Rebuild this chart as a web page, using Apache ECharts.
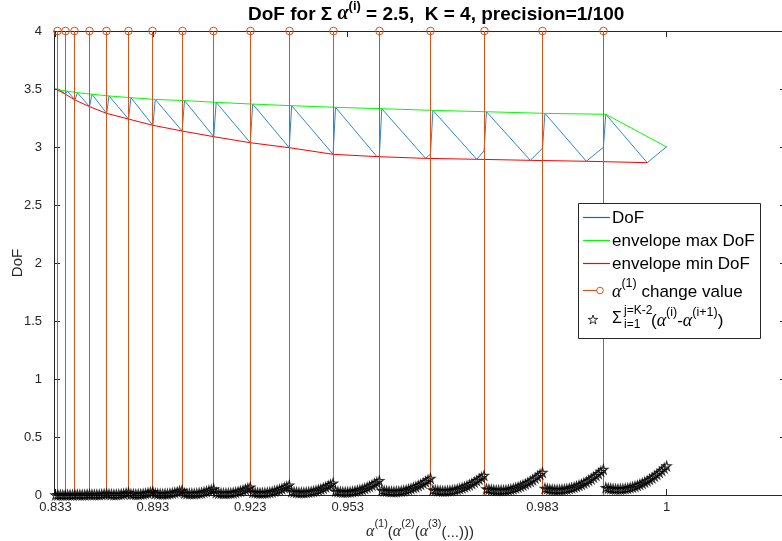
<!DOCTYPE html>
<html><head><meta charset="utf-8">
<script src="https://cdn.jsdelivr.net/npm/echarts@6/dist/echarts.min.js"></script>
<style>html,body{margin:0;padding:0;background:#fff}#c{width:782px;height:541px}</style>
</head><body><div id="c"></div>
<script>
// ---------- data (x = running index of the enumerated alpha combinations) ----------
const xTickPos = [0, 40, 80, 120, 200, 251];
const xTickLabels = ['0.833', '0.893', '0.923', '0.953', '0.983', '1'];
const yTicks = [0, 0.5, 1, 1.5, 2, 2.5, 3, 3.5, 4];

// alpha(1) change positions (stem height 4)
const changeIdx = [1, 4, 8, 14, 21, 30, 40, 52, 65, 80, 96, 114, 133, 154, 176, 200, 225];
const changeHeight = 4;

// DoF sawtooth vertices
const dofIdx = [0, 1, 2, 4, 5, 8, 9, 14, 15, 21, 22, 30, 31, 40, 41, 52, 53, 65, 66, 80, 81, 96, 97, 114, 115, 132, 133, 134, 152, 154, 155, 173, 176, 177, 195, 200, 201, 218, 225, 226, 243, 251];
const dofVal = [3.5, 3.5, 3.49, 3.457, 3.481, 3.405, 3.468, 3.348, 3.455, 3.29, 3.44, 3.241, 3.425, 3.187, 3.41, 3.138, 3.40, 3.089, 3.385, 3.037, 3.37, 2.994, 3.356, 2.937, 3.342, 2.917, 2.922, 3.33, 2.902, 2.94, 3.316, 2.894, 2.966, 3.304, 2.885, 2.989, 3.29, 2.877, 2.997, 3.282, 2.865, 3.003];

// envelope max DoF
const maxIdx = [0, 2, 5, 9, 15, 22, 31, 41, 53, 66, 81, 97, 115, 134, 155, 177, 201, 226, 251];
const maxVal = [3.5, 3.49, 3.481, 3.468, 3.455, 3.44, 3.425, 3.41, 3.40, 3.385, 3.37, 3.356, 3.342, 3.33, 3.316, 3.304, 3.29, 3.282, 3.0];

// envelope min DoF
const minIdx = [0, 4, 8, 14, 21, 30, 40, 52, 65, 80, 96, 114, 132, 152, 173, 195, 218, 243];
const minVal = [3.5, 3.457, 3.405, 3.348, 3.29, 3.241, 3.187, 3.138, 3.089, 3.037, 2.994, 2.937, 2.917, 2.902, 2.894, 2.885, 2.877, 2.865];

// sum_{i=1}^{K-2} (alpha(i)-alpha(i+1)) terms, one list per alpha(1) value
const sumSeg0833 = [0, 0];
const sumSeg084 = [0.001, 0, 0];
const sumSeg085 = [0.001, 0.001, 0.001, 0.003];
const sumSeg086 = [0.003, 0.002, 0.001, 0.002, 0.004, 0.006];
const sumSeg087 = [0.004, 0.003, 0.003, 0.003, 0.005, 0.008, 0.012];
const sumSeg088 = [0.007, 0.005, 0.004, 0.004, 0.005, 0.007, 0.010, 0.015, 0.020];
const sumSeg089 = [0.008, 0.007, 0.006, 0.006, 0.007, 0.010, 0.013, 0.017, 0.023, 0.029];
const sumSeg090 = [0.013, 0.010, 0.009, 0.008, 0.009, 0.010, 0.013, 0.016, 0.021, 0.026, 0.033, 0.040];
const sumSeg091 = [0.015, 0.012, 0.011, 0.011, 0.011, 0.013, 0.016, 0.019, 0.024, 0.030, 0.037, 0.044, 0.053];
const sumSeg092 = [0.020, 0.017, 0.015, 0.014, 0.014, 0.015, 0.016, 0.019, 0.023, 0.028, 0.034, 0.041, 0.049, 0.058, 0.068];
const sumSeg093 = [0.023, 0.020, 0.018, 0.017, 0.017, 0.018, 0.020, 0.023, 0.027, 0.033, 0.039, 0.046, 0.054, 0.063, 0.073, 0.084];
const sumSeg094 = [0.029, 0.026, 0.023, 0.021, 0.021, 0.021, 0.022, 0.024, 0.028, 0.032, 0.037, 0.044, 0.051, 0.059, 0.069, 0.079, 0.090, 0.102];
const sumSeg095 = [0.033, 0.029, 0.027, 0.025, 0.025, 0.025, 0.027, 0.029, 0.033, 0.037, 0.043, 0.049, 0.057, 0.065, 0.075, 0.085, 0.097, 0.109, 0.123];
const sumSeg096 = [0.040, 0.036, 0.033, 0.031, 0.029, 0.029, 0.030, 0.031, 0.034, 0.038, 0.042, 0.048, 0.055, 0.063, 0.071, 0.081, 0.092, 0.103, 0.116, 0.130, 0.144];
const sumSeg097 = [0.044, 0.040, 0.037, 0.035, 0.034, 0.034, 0.035, 0.037, 0.039, 0.043, 0.048, 0.054, 0.061, 0.069, 0.078, 0.088, 0.099, 0.111, 0.123, 0.137, 0.152, 0.168];
const sumSeg098 = [0.053, 0.048, 0.045, 0.042, 0.040, 0.039, 0.039, 0.040, 0.042, 0.045, 0.049, 0.054, 0.061, 0.068, 0.076, 0.085, 0.095, 0.106, 0.118, 0.131, 0.145, 0.160, 0.177, 0.194];
const sumSeg099 = [0.058, 0.053, 0.049, 0.047, 0.045, 0.044, 0.045, 0.046, 0.048, 0.051, 0.056, 0.061, 0.067, 0.075, 0.083, 0.092, 0.103, 0.114, 0.126, 0.139, 0.154, 0.169, 0.185, 0.203, 0.221];
const sumSeg100 = [0.063, 0.058, 0.055, 0.052, 0.051, 0.050, 0.051, 0.052, 0.055, 0.058, 0.063, 0.068, 0.075, 0.082, 0.091, 0.100, 0.111, 0.122, 0.135, 0.148, 0.163, 0.178, 0.195, 0.212, 0.231, 0.250];

const sumSegments = [sumSeg0833, sumSeg084, sumSeg085, sumSeg086, sumSeg087, sumSeg088, sumSeg089, sumSeg090, sumSeg091, sumSeg092, sumSeg093, sumSeg094, sumSeg095, sumSeg096, sumSeg097, sumSeg098, sumSeg099, sumSeg100];

// ---------- build series data ----------
const sumData = [];
let k = 0;
sumSegments.forEach(seg => seg.forEach(v => { sumData.push([k, v]); k++; }));
const pairs = (xs, ys) => xs.map((x, i) => [x, ys[i]]);

const FONT = "'Liberation Sans', Arial, Helvetica, sans-serif";
const SERIF = "'Liberation Serif', 'DejaVu Serif', serif";
const AX = '#262626';
const starPath = 'path://M50,0 L61,35 L98,35 L68,57 L79,91 L50,70 L21,91 L32,57 L2,35 L39,35 Z';

const chart = echarts.init(document.getElementById('c'), null, {renderer: 'canvas'});
const xCommon = {
  type: 'value', min: -0.6, max: 300,
  splitLine: {show: false},
  axisLine: {show: true, onZero: false, lineStyle: {color: AX, width: 1}}
};
const yCommon = {
  type: 'value', min: 0, max: 4, interval: 0.5,
  splitLine: {show: false},
  axisLine: {show: true, onZero: false, lineStyle: {color: AX, width: 1}}
};

const supRich = {
  a: {fontFamily: SERIF, fontStyle: 'italic', fontSize: 16, color: AX, lineHeight: 22, verticalAlign: 'bottom'},
  s: {fontFamily: FONT, fontSize: 11, color: AX, lineHeight: 22, verticalAlign: 'top'},
  t: {fontFamily: FONT, fontSize: 15, color: AX, lineHeight: 22, verticalAlign: 'bottom'}
};
const legRich = {
  a: {fontFamily: SERIF, fontStyle: 'italic', fontSize: 18, color: '#000', lineHeight: 24, verticalAlign: 'bottom'},
  s: {fontFamily: FONT, fontSize: 12.5, color: '#000', lineHeight: 24, verticalAlign: 'top'},
  t: {fontFamily: FONT, fontSize: 17, color: '#000', lineHeight: 24, verticalAlign: 'bottom'}
};
const txt = (x, y, text, size) => ({type: 'text', z: 101, x: x, y: y,
  style: {text: text, font: size + 'px ' + FONT, fill: '#000', verticalAlign: 'middle'}});

chart.setOption({
  animation: false,
  backgroundColor: '#fff',
  title: {
    text: '{b|DoF for Σ }{a|α}{s|(i)}{b| = 2.5,  K = 4, precision=1/100}',
    left: 243, top: -5,
    textStyle: {
      rich: {
        b: {fontFamily: FONT, fontWeight: 'bold', fontSize: 19, color: '#000', lineHeight: 24, verticalAlign: 'bottom'},
        a: {fontFamily: SERIF, fontStyle: 'italic', fontWeight: 'bold', fontSize: 20, color: '#000', lineHeight: 24, verticalAlign: 'bottom'},
        s: {fontFamily: FONT, fontWeight: 'bold', fontSize: 13, color: '#000', lineHeight: 24, verticalAlign: 'top'}
      }
    }
  },
  grid: {left: 54, right: -4, top: 31, bottom: 46, containLabel: false, outerBoundsMode: 'none'},
  xAxis: [
    Object.assign({}, xCommon, {
      position: 'bottom',
      name: '{a|α}{s|(1)}{t|(}{a|α}{s|(2)}{t|(}{a|α}{s|(3)}{t|(...)))}',
      nameLocation: 'middle', nameGap: 23, nameMoveOverlap: false,
      nameTextStyle: {rich: supRich},
      axisTick: {show: true, inside: true, length: 6, customValues: xTickPos, lineStyle: {color: AX}},
      axisLabel: {show: true, customValues: xTickPos, margin: 6, fontFamily: FONT, fontSize: 13, color: AX,
        formatter: v => { const i = xTickPos.indexOf(v); return i >= 0 ? xTickLabels[i] : ''; }}
    }),
    Object.assign({}, xCommon, {
      position: 'top',
      axisTick: {show: true, inside: true, length: 6, customValues: xTickPos, lineStyle: {color: AX}},
      axisLabel: {show: false}
    })
  ],
  yAxis: [
    Object.assign({}, yCommon, {
      position: 'left',
      name: 'DoF', nameLocation: 'middle', nameGap: 29, nameMoveOverlap: false,
      nameTextStyle: {fontFamily: FONT, fontSize: 15, color: AX},
      axisTick: {show: true, inside: true, length: 6, lineStyle: {color: AX}},
      axisLabel: {show: true, margin: 12, fontFamily: FONT, fontSize: 13, color: AX,
        formatter: v => String(v)}
    }),
    Object.assign({}, yCommon, {
      position: 'right',
      axisTick: {show: true, inside: true, length: 6, lineStyle: {color: AX}},
      axisLabel: {show: false}
    })
  ],
  series: [
    {name: 'DoF', type: 'line', data: pairs(dofIdx, dofVal), showSymbol: false, symbol: 'none',
      lineStyle: {color: '#2E86CF', width: 1}, z: 2},
    {name: 'envelope max DoF', type: 'line', data: pairs(maxIdx, maxVal), showSymbol: false, symbol: 'none',
      lineStyle: {color: '#00FF00', width: 1}, z: 3},
    {name: 'envelope min DoF', type: 'line', data: pairs(minIdx, minVal), showSymbol: false, symbol: 'none',
      lineStyle: {color: '#FF0000', width: 1}, z: 3},
    {name: 'change', type: 'custom', clip: false, z: 4,
      data: changeIdx.map(x => [x, changeHeight]),
      renderItem: (params, api) => {
        const x = api.value(0), h = api.value(1);
        const p0 = api.coord([x, 0]), p1 = api.coord([x, h]);
        const px = Math.round(p0[0] - 0.5) + 0.5;
        return {type: 'group', children: [
          {type: 'line', shape: {x1: px, y1: p0[1], x2: px, y2: p1[1]}, style: {stroke: '#D95319', lineWidth: 1}},
          {type: 'circle', shape: {cx: px, cy: p1[1], r: 3.8}, style: {fill: 'none', stroke: '#D95319', lineWidth: 1}}
        ]};
      }},
    {name: 'sum', type: 'scatter', data: sumData, symbol: starPath, symbolSize: 9, z: 5,
      itemStyle: {color: 'rgba(0,0,0,0)', borderColor: '#000', borderWidth: 1.2}}
  ],
  graphic: [
    {type: 'rect', z: 100, shape: {x: 578.5, y: 203.5, width: 182, height: 135}, style: {fill: '#fff', stroke: AX, lineWidth: 1}},
    {type: 'line', z: 101, shape: {x1: 583, y1: 217.5, x2: 610, y2: 217.5}, style: {stroke: '#0072BD', lineWidth: 1.2}},
    {type: 'line', z: 101, shape: {x1: 583, y1: 240.5, x2: 610, y2: 240.5}, style: {stroke: '#00FF00', lineWidth: 1.2}},
    {type: 'line', z: 101, shape: {x1: 583, y1: 263.5, x2: 610, y2: 263.5}, style: {stroke: '#FF0000', lineWidth: 1.2}},
    {type: 'line', z: 101, shape: {x1: 583, y1: 290.5, x2: 597, y2: 290.5}, style: {stroke: '#D95319', lineWidth: 1.2}},
    {type: 'circle', z: 101, shape: {cx: 600, cy: 290.5, r: 3.3}, style: {fill: 'none', stroke: '#D95319', lineWidth: 1}},
    {type: 'polygon', z: 101, shape: {points: [[593,315],[594.1,318.4],[597.7,318.4],[594.8,320.5],[595.9,323.9],[593,321.8],[590.1,323.9],[591.2,320.5],[588.3,318.4],[591.9,318.4]]},
      style: {fill: 'none', stroke: '#000', lineWidth: 0.8}},
    txt(612, 218, 'DoF', 17),
    txt(612, 241, 'envelope max DoF', 17),
    txt(612, 264, 'envelope min DoF', 17),
    {type: 'text', z: 101, x: 612, y: 289, style: {text: '{a|α}{s|(1)}{t| change value}', verticalAlign: 'middle', rich: legRich}},
    txt(612, 319, 'Σ', 16),
    txt(624, 311, 'j=K-2', 12),
    txt(624, 325, 'i=1', 12),
    {type: 'text', z: 101, x: 651, y: 318, style: {text: '{t|(}{a|α}{s|(i)}{t|-}{a|α}{s|(i+1)}{t|)}', verticalAlign: 'middle', rich: legRich}}
  ]
});
</script></body></html>
